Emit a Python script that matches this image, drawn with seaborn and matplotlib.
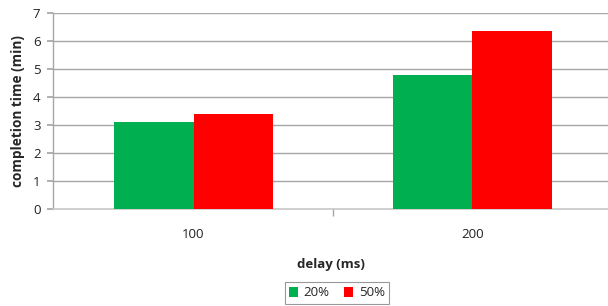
import matplotlib
matplotlib.use("Agg")
import matplotlib.pyplot as plt
import seaborn as sns
import pandas as pd
from matplotlib.patches import Patch

delays = ["100", "200"]
series = ["20%", "50%"]
values_20 = [3.11, 4.77]
values_50 = [3.38, 6.37]
colors = ["#00B050", "#FF0000"]

df = pd.DataFrame({
    "delay": delays * 2,
    "load": [series[0]] * 2 + [series[1]] * 2,
    "time": values_20 + values_50,
})

sns.set_theme(style="white")
plt.rcParams["font.family"] = ["Open Sans", "DejaVu Sans"]

fig = plt.figure(figsize=(6.08, 3.06), dpi=100)
ax = fig.add_axes([53/608, 97/306, 555/608, 196/306])

sns.barplot(data=df, x="delay", y="time", hue="load", palette=colors,
            saturation=1, width=0.57, linewidth=0, ax=ax, legend=False, zorder=3)

ax.set_ylim(0, 7)
ax.set_yticks(range(0, 8))
ax.set_xlim(-0.5036, 1.4857)
ax.yaxis.grid(True, color="#a6a6a6", linewidth=1, zorder=0)
ax.set_axisbelow(True)
for s in ["top", "right"]:
    ax.spines[s].set_visible(False)
ax.spines["left"].set_color("#a6a6a6")
ax.spines["bottom"].set_color("#c8c8c8")
ax.spines["left"].set_linewidth(1)
ax.spines["bottom"].set_linewidth(1.2)

ax.tick_params(axis="y", left=True, length=4, color="#a6a6a6", labelsize=9.5, pad=5, labelcolor="#222222")
ax.tick_params(axis="x", bottom=False, labelsize=9.5, pad=8, labelcolor="#222222")
ax.set_xticks([0, 1])
ax.set_xticklabels(delays)
ax.set_xticks([0.5], minor=True)
ax.tick_params(axis="x", which="minor", bottom=True, length=5, color="#a6a6a6")

ax.set_ylabel("completion time (min)", fontsize=9.8, fontweight="bold", labelpad=6)
ax.set_xlabel("delay (ms)", fontsize=9.5, fontweight="bold", labelpad=12)

handles = [Patch(facecolor=c, edgecolor="none", label=l) for c, l in zip(colors, series)]
leg = fig.legend(handles=handles, loc="center", bbox_to_anchor=(337/608, 1 - 293/306),
                 ncol=2, frameon=True, fancybox=False, fontsize=9.5,
                 handlelength=0.7, handleheight=0.7, handletextpad=0.4,
                 columnspacing=1.1, borderpad=0.35, borderaxespad=0)
leg.get_frame().set_edgecolor("#7f7f7f")
leg.get_frame().set_linewidth(0.8)

fig.savefig("out.png", dpi=100)
